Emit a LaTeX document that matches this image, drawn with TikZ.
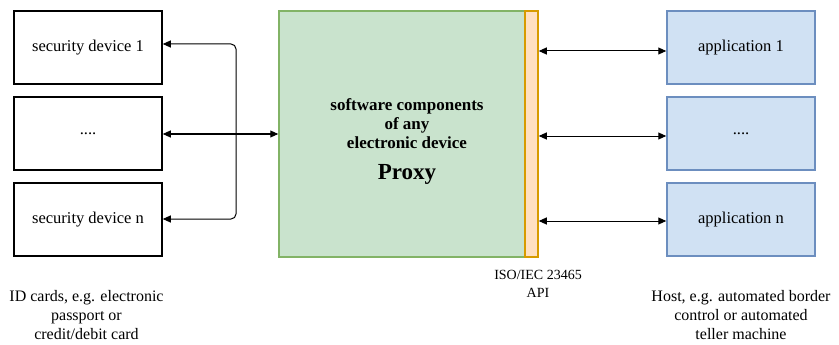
\documentclass[tikz,border=0pt]{standalone}
\usepackage{fontspec}
\setmainfont{Liberation Serif}
\usetikzlibrary{arrows.meta,calc}
\definecolor{grfill}{HTML}{C9E3CD}
\definecolor{grline}{HTML}{82B366}
\definecolor{orfill}{HTML}{FFE0C2}
\definecolor{orline}{HTML}{D79B00}
\definecolor{blfill}{HTML}{D0E1F3}
\definecolor{blline}{HTML}{6C8EBF}
\tikzset{
  box/.style={draw, line width=1.5pt, minimum width=148pt, minimum height=73pt, inner sep=0pt, font=\fontsize{16.5}{19}\selectfont},
  secbox/.style={box, draw=black, fill=white},
  appbox/.style={box, draw=blline, fill=blfill},
  arr/.style={{Triangle[length=8pt,width=7pt]}-{Triangle[length=8pt,width=7pt]}, line width=1pt},
  lbl/.style={align=center, inner sep=0pt, font=\fontsize{16}{19}\selectfont}
}
\begin{document}
\begin{tikzpicture}[x=1pt,y=-1pt]
\useasboundingbox (0,0) rectangle (839,345);
% left devices
\node[secbox] (s1) at (88,47.5) {security device 1};
\node[secbox] (s2) at (88,133.5) {....};
\node[secbox] (s3) at (88,219.5) {security device n};
% proxy
\node[draw=grline, fill=grfill, line width=1.5pt, minimum width=246pt, minimum height=246pt, inner sep=0pt] (p) at (402,134) {};
\node[draw=orline, fill=orfill, line width=1.5pt, minimum width=13pt, minimum height=246pt, inner sep=0pt] (api) at (531.5,134) {};
\node[align=center, inner sep=0pt, font=\bfseries\fontsize{17}{19}\selectfont] (ptxt) at (407,124) {software components\\of any\\electronic device};
\node[inner sep=0pt, font=\bfseries\fontsize{23}{26}\selectfont] (proxy) at (407,174) {Proxy};
% right applications
\node[appbox] (a1) at (741,47.5) {application 1};
\node[appbox] (a2) at (741,133.5) {....};
\node[appbox] (a3) at (741,219.5) {application n};
% connectors left
\coordinate (l1) at ($(s1.east)+(0,-3.5)$);
\coordinate (l3) at ($(s3.east)+(0,-0.5)$);
\coordinate (bus) at (236,134);
\draw[arr, rounded corners=5pt] (l1) -| (bus) |- (l3);
\draw[arr] (s2.east |- p.west) -- (p.west);
% connectors right
\coordinate (r1) at ($(a1.west)+(0,3.5)$);
\coordinate (r2) at ($(a2.west)+(0,2.5)$);
\coordinate (r3) at ($(a3.west)+(0,1.5)$);
\draw[arr] (api.east |- r1) -- (r1);
\draw[arr] (api.east |- r2) -- (r2);
\draw[arr] (api.east |- r3) -- (r3);
% captions
\node[lbl] (capl) at (86.5,315) {ID cards, e.g. electronic\\passport or\\credit/debit card};
\node[lbl, font=\fontsize{14}{18}\selectfont] (capm) at (538,284) {ISO/IEC 23465\\API};
\node[lbl] (capr) at (741,315) {Host, e.g. automated border\\control or automated\\teller machine};
\end{tikzpicture}
\end{document}
